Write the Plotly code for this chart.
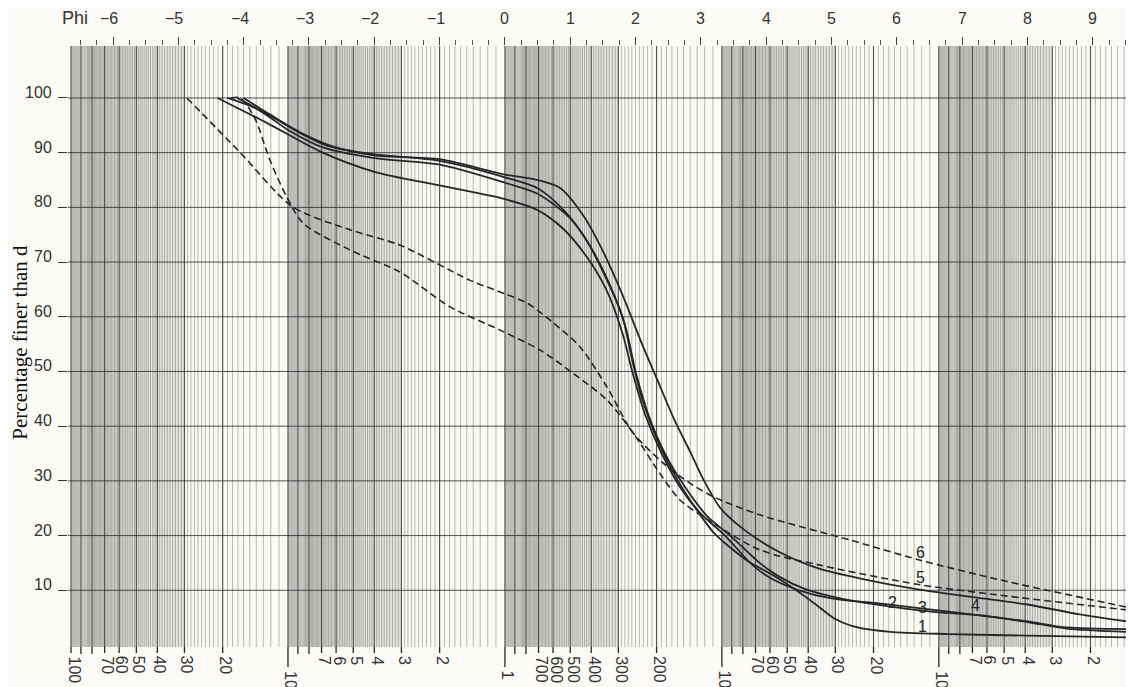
import numpy as np
import plotly.graph_objects as go

# ---------------- data ----------------
phi_ticks = list(range(-6, 10))
phi_tick_text = [str(v) for v in phi_ticks]
pct_ticks = [10, 20, 30, 40, 50, 60, 70, 80, 90, 100]
pct_tick_text = [str(v) for v in pct_ticks]

diam_mm = [100, 70, 60, 50, 40, 30, 20, 10, 7, 6, 5, 4, 3, 2, 1,
           0.7, 0.6, 0.5, 0.4, 0.3, 0.2, 0.1, 0.07, 0.06, 0.05, 0.04, 0.03, 0.02,
           0.01, 0.007, 0.006, 0.005, 0.004, 0.003, 0.002]
diam_text = ["100", "70", "60", "50", "40", "30", "20", "10", "7", "6", "5", "4", "3", "2", "1",
             "700", "600", "500", "400", "300", "200", "100", "70", "60", "50", "40", "30", "20",
             "10", "7", "6", "5", "4", "3", "2"]

c1_phi = [-4.1, -3.7, -3.2, -2.7, -2.0, -1.0, 0.0, 0.5, 0.9, 1.25, 1.55, 1.8, 1.95, 2.1, 2.35, 2.65,
          2.95, 3.2, 3.7, 4.1, 4.4, 4.75, 5.05, 5.4, 5.9, 6.8, 8.0, 9.53]
c1_pct = [100, 97.5, 94, 91.2, 89.7, 88.5, 85.5, 83.5, 79.5, 74, 67, 60, 52, 45, 37, 30,
          24.5, 20.5, 15.5, 12.8, 10.5, 7.5, 4.8, 3.2, 2.4, 2.0, 1.7, 1.4]

c2_phi = [-4.4, -3.64, -2.79, -2.0, -1.0, 0.0, 0.5, 0.9, 1.25, 1.55, 1.8, 1.95, 2.15, 2.4, 2.7, 3.0,
          3.37, 3.8, 4.1, 4.5, 5.0, 5.8, 6.5, 7.2, 8.0, 8.6, 9.53]
c2_pct = [100, 95.4, 90.0, 86.5, 84, 81.5, 79.5, 76, 71, 65, 57, 50, 42, 35, 28.5, 24,
          20, 14.5, 12, 10, 8.5, 7.5, 6.5, 5.5, 4.3, 3.2, 2.9]

c3_phi = [-4.25, -3.8, -3.3, -2.8, -2.0, -1.0, 0.0, 0.5, 1.0, 1.3, 1.6, 1.85, 2.0, 2.2, 2.45, 2.75,
          3.1, 3.45, 3.9, 4.2, 4.6, 5.1, 5.9, 6.6, 7.3, 8.0, 8.6, 9.53]
c3_pct = [100, 98, 94, 91, 89, 87.8, 84.5, 82.5, 78, 73, 66, 58, 50, 42, 35, 29,
          23.5, 20, 15, 12.5, 10.2, 8.6, 7.0, 6.0, 5.4, 4.2, 3.0, 2.4]

c4_phi = [-4.0, -3.6, -3.1, -2.6, -2.0, -1.0, 0.0, 0.5, 0.85, 1.2, 1.5, 1.8, 2.1, 2.35, 2.6, 2.85,
          3.05, 3.3, 3.67, 4.2, 4.8, 5.5, 6.3, 7.2, 8.0, 8.8, 9.53]
c4_pct = [100, 97, 93.5, 91, 89.5, 88.8, 86, 85, 83.5, 78.5, 72, 64, 55, 48, 41, 35,
          30, 25, 21, 17, 14, 12, 10.2, 8.7, 7.4, 5.6, 4.3]

c5_phi = [-4.2, -4.05, -3.83, -3.6, -3.34, -3.09, -2.37, -1.61, -0.84, -0.08, 0.54, 1.04, 1.56, 1.96,
          2.37, 2.68, 2.99, 3.9, 4.82, 6.36, 7.58, 9.53]
c5_pct = [100, 100, 96.3, 88.7, 81.9, 77.1, 72.2, 68.2, 61.8, 57.6, 53.9, 49.7, 44.8, 38.8,
          31.4, 26.5, 23.8, 17.4, 14.6, 11.0, 9.1, 6.4]

c6_phi = [-4.87, -4.06, -3.25, -2.37, -1.61, -0.54, 0.0, 0.34, 0.74, 1.15, 1.56, 1.96, 2.42, 2.83,
          3.19, 3.9, 5.28, 6.36, 7.58, 9.53]
c6_pct = [100, 90.1, 80.1, 75.9, 73.1, 66.7, 64.2, 62.5, 58.9, 54.5, 47.2, 38.8, 33.3, 29.6,
          27.1, 23.8, 19.2, 15.5, 11.9, 6.9]

curve_labels = ["1", "2", "3", "4", "5", "6"]
label_phi = [6.4, 5.93, 6.4, 7.2, 6.37, 6.36]
label_pct = [3.3, 7.7, 6.8, 7.3, 12.3, 16.9]

# ---------------- layout constants ----------------
X_RANGE = [-6.69, 9.525]
Y_RANGE = [-0.37, 109.5]
INK = "#262626"
PLOT_H = 601.0

fig = go.Figure()

shapes = []
# shaded dense zones of the log paper (m = 3.0 .. 8.4 in every decade)
for n in range(-3, 3):
    a = -np.log2(8.4 * 10.0 ** n)
    b = -np.log2(3.0 * 10.0 ** n)
    a, b = max(a, X_RANGE[0]), min(b, X_RANGE[1])
    if a < b:
        shapes.append(dict(type="rect", xref="x", yref="y", x0=a, x1=b, y0=Y_RANGE[0], y1=Y_RANGE[1],
                           fillcolor="rgba(120,120,115,0.16)", line=dict(width=0), layer="below"))

# fine vertical grid of the log paper (diameter subdivisions)
minor_x, minor_y, major_x, major_y = [], [], [], []
for n in range(-3, 3):
    for k in range(10, 100):
        d = (k / 10.0) * 10.0 ** n
        p = -np.log2(d)
        if X_RANGE[0] <= p <= X_RANGE[1]:
            if k % 10 == 0:
                major_x += [p, p, None]
                major_y += [Y_RANGE[0], Y_RANGE[1], None]
            else:
                minor_x += [p, p, None]
                minor_y += [Y_RANGE[0], Y_RANGE[1], None]

fig.add_trace(go.Scatter(x=minor_x, y=minor_y, mode="lines", hoverinfo="skip",
                         line=dict(color="rgba(75,75,75,0.42)", width=0.9), showlegend=False))
fig.add_trace(go.Scatter(x=major_x, y=major_y, mode="lines", hoverinfo="skip",
                         line=dict(color="rgba(45,45,45,0.8)", width=1.2), showlegend=False))

# horizontal grid
hx, hy = [], []
for v in pct_ticks:
    hx += [X_RANGE[0], X_RANGE[1], None]
    hy += [v, v, None]
fig.add_trace(go.Scatter(x=hx, y=hy, mode="lines", hoverinfo="skip",
                         line=dict(color="rgba(40,40,40,0.8)", width=1), showlegend=False))

# curves
for ph, pc in [(c1_phi, c1_pct), (c2_phi, c2_pct), (c3_phi, c3_pct), (c4_phi, c4_pct)]:
    fig.add_trace(go.Scatter(x=ph, y=pc, mode="lines",
                             line=dict(color=INK, width=1.8, shape="spline", smoothing=0.8),
                             showlegend=False))
for ph, pc in [(c5_phi, c5_pct), (c6_phi, c6_pct)]:
    fig.add_trace(go.Scatter(x=ph, y=pc, mode="lines",
                             line=dict(color=INK, width=1.6, dash="7px,4px", shape="spline", smoothing=0.8),
                             showlegend=False))

# curve labels
for t, xp, yp in zip(curve_labels, label_phi, label_pct):
    fig.add_annotation(x=xp, y=yp, text=t, showarrow=False,
                       font=dict(family="Liberation Sans", size=16, color=INK))

# y tick labels (sitting on the grid lines)
for v, t in zip(pct_ticks, pct_tick_text):
    fig.add_annotation(x=0, xref="paper", y=v, yref="y", text=t, showarrow=False,
                       xanchor="right", yanchor="bottom", xshift=-14, yshift=-5,
                       font=dict(family="Liberation Sans", size=16, color="#333"))

# top phi labels
fig.add_annotation(x=-6.35, y=1, yref="paper", text="Phi", showarrow=False, xanchor="right",
                   yanchor="middle", yshift=28, font=dict(family="Liberation Sans", size=18, color="#333"))
for v, t in zip(phi_ticks, phi_tick_text):
    fig.add_annotation(x=v, y=1, yref="paper", text=t.replace("-", "\u2212"), showarrow=False,
                       xanchor="center", yanchor="middle", yshift=28, xshift=-4 if v < 0 else 0,
                       font=dict(family="Liberation Sans", size=16, color="#333"))

# bottom diameter ticks and labels
for n in range(-3, 3):
    for k in range(1, 10):
        d = k * 10.0 ** n
        p = -np.log2(d)
        if X_RANGE[0] <= p <= X_RANGE[1]:
            if k == 1 and n < 2:
                ln = 20
            elif k >= 8:
                ln = 7
            else:
                ln = 6
            shapes.append(dict(type="line", xref="x", yref="paper", x0=p, x1=p, y0=0, y1=-ln / PLOT_H,
                               line=dict(color=INK, width=1.3)))
for d, t in zip(diam_mm, diam_text):
    p = -np.log2(d)
    long_tick = t in ("1", "10") or (t == "100" and d < 1)
    fig.add_annotation(x=p, y=0, yref="paper", text=t, showarrow=False, textangle=90,
                       xanchor="center", yanchor="top", xshift=3, yshift=-(22 if long_tick else 7),
                       font=dict(family="Liberation Sans", size=16, color="#333"))

# y title
fig.add_annotation(x=-0.0450, xref="paper", y=0.507, yref="paper", text="Percentage finer than d",
                   textangle=-90, showarrow=False, xanchor="center", yanchor="middle",
                   font=dict(family="Liberation Serif", size=21, color="#111"))

fig.update_layout(
    width=1134, height=687,
    margin=dict(l=60, r=15, t=38, b=48),
    paper_bgcolor="#fbfaf6", plot_bgcolor="#fbfaf6",
    shapes=shapes,
    xaxis=dict(range=X_RANGE, side="top", showgrid=False, zeroline=False, showline=False,
               tickvals=phi_ticks, ticks="outside", ticklen=8, tickcolor="#444", showticklabels=False,
               minor=dict(dtick=0.25, ticks="outside", ticklen=5, tickcolor="#555")),
    yaxis=dict(range=Y_RANGE, showgrid=False, zeroline=False, showline=False,
               tickvals=pct_ticks, ticks="outside", ticklen=9, tickcolor="#333", showticklabels=False),
)

fig.write_html("out.html")
